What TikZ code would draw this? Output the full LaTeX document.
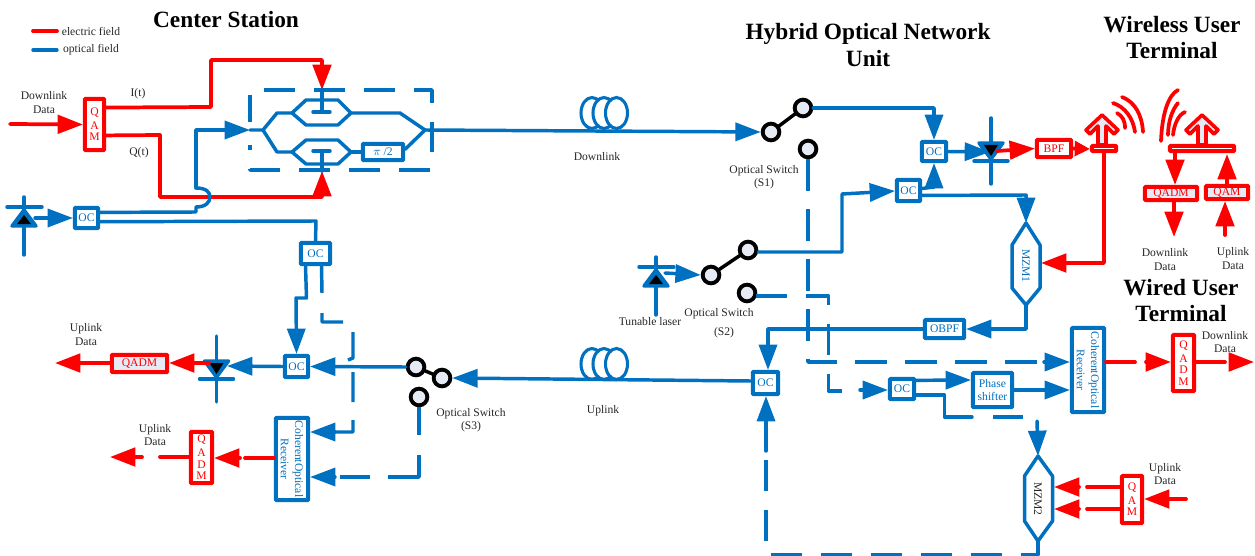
\documentclass[tikz,border=0pt]{standalone}
\usepackage{fontspec}
\usepackage{graphicx}
\setmainfont{Liberation Serif}
\usetikzlibrary{arrows.meta}
\definecolor{oblue}{HTML}{0070C0}
\definecolor{ored}{HTML}{FF0000}
\definecolor{pale}{HTML}{E6EAF5}
\tikzset{
  bl/.style={draw=oblue,line width=2.6pt,line join=round,line cap=round},
  rd/.style={draw=ored,line width=2.8pt,line join=round,line cap=round},
  barrow/.style={bl,-{Triangle[length=19pt,width=13.5pt]}},
  rarrow/.style={rd,-{Triangle[length=19pt,width=13.8pt]}},
  dsh/.style={bl,line cap=butt,dash pattern=on 23.5pt off 14pt},
  dpart/.style={bl,line cap=butt},
  lbl/.style={font=\fontsize{8.7}{10.1}\selectfont,align=center,inner sep=0pt,text=black!85},
  ttl/.style={font=\fontsize{17.5}{20.2}\selectfont\bfseries,align=center,inner sep=0pt},
  obox/.style={draw=oblue,line width=2.9pt,fill=white,inner sep=0pt,rounded corners=.5pt,text=oblue,font=\fontsize{8.7}{10.1}\selectfont,align=center},
  rbox/.style={draw=ored,line width=2.9pt,fill=white,inner sep=0pt,rounded corners=.5pt,text=ored,font=\fontsize{8.7}{10.1}\selectfont,align=center},
  rpale/.style={rbox,fill=pale},
  swc/.style={circle,draw=black,line width=2.9pt,fill=pale,minimum size=12.5pt,inner sep=0pt},
}
\newcommand{\bx}[7]{\pgfmathsetmacro\mycx{(#2+#4)/2}\pgfmathsetmacro\mycy{(#3+#5)/2}\pgfmathsetmacro\mybw{(#4-#2-3.8)*0.75}\pgfmathsetmacro\mybh{(#5-#3-3.8)*0.75}\node[#6,minimum width=\mybw pt,minimum height=\mybh pt] (#1) at (\mycx,\mycy) {#7};}
\newcommand{\laser}[2]{%
  \draw[bl] (#1,#2-10) -- (#1,#2+48);
  \draw[bl] (#1-17,#2) -- (#1+18,#2);
  \draw[bl,fill=oblue] (#1,#2+3) -- (#1-12,#2+19) -- (#1+12,#2+19) -- cycle;
  \fill[black] (#1,#2+8) -- (#1-7,#2+17) -- (#1+7,#2+17) -- cycle;}
\newcommand{\pdiode}[2]{%
  \draw[bl] (#1,#2-25) -- (#1,#2+41);
  \draw[bl] (#1-17,#2+18) -- (#1+17,#2+18);
  \draw[bl,fill=oblue] (#1-12,#2) -- (#1+12,#2) -- (#1,#2+16) -- cycle;
  \fill[black] (#1-7,#2+2) -- (#1+7,#2+2) -- (#1,#2+13) -- cycle;}
\newcommand{\antenna}[1]{%
  \draw[draw=ored,line width=2.7pt,line join=round,fill=pale] (#1,115) -- (#1+16,130) -- (#1+12,134) -- (#1+4,126) -- (#1+4,145) -- (#1-4,145) -- (#1-4,126) -- (#1-12,134) -- (#1-16,130) -- cycle;}
\begin{document}
\begin{tikzpicture}[x=0.75pt,y=-0.75pt]
\useasboundingbox (0,0) rectangle (1255,556);

% titles and legend
\node[ttl] (tCS) at (226,20) {Center Station};
\node[ttl] (tHY) at (868,45) {Hybrid Optical Network\\Unit};
\node[ttl] (tWL) at (1172,37.5) {Wireless User\\Terminal};
\node[ttl] (tWD) at (1181,300.5) {Wired User\\Terminal};
\coordinate (le1) at (33,31); \coordinate (le2) at (57,31);
\coordinate (lo1) at (33,50); \coordinate (lo2) at (57,50);
\draw[rd] (le1) -- (le2);
\draw[bl] (lo1) -- (lo2);
\node[lbl] (tEF) at (91,31) {electric field};
\node[lbl] (tOF) at (91,50) {optical field};

% labels
\node[lbl] (tDD1) at (44,102.5) {Downlink\\Data};
\node[lbl] (tIt) at (138,94) {I(t)};
\node[lbl] (tQt) at (139,153) {Q(t)};
\node[lbl] (tUD1) at (86,334.5) {Uplink\\Data};
\node[lbl] (tUD2) at (155,435) {Uplink\\Data};
\node[lbl] (tDL) at (597,157) {Downlink};
\node[lbl] (tUL) at (603,411) {Uplink};
\node[lbl] (tS1) at (764,177) {Optical Switch\\(S1)};
\node[lbl] (tS2a) at (719,314) {Optical Switch};
\node[lbl] (tS2b) at (724,333) {(S2)};
\node[lbl] (tS3) at (471,420) {Optical Switch\\(S3)};
\node[lbl] (tTL) at (650,322) {Tunable laser};
\node[lbl] (tDD2) at (1165,259.5) {Downlink\\Data};
\node[lbl] (tUD3) at (1233,258.5) {Uplink\\Data};
\node[lbl] (tDD3) at (1225,342) {Downlink\\Data};
\node[lbl] (tUD4) at (1165,474) {Uplink\\Data};

% boxes
\bx{qam1}{83}{97}{106}{152}{rbox}{\shortstack{Q\\A\\M}}
\bx{pi2}{361}{142}{405}{162}{obox}{$\pi$ /2}
\bx{oc7}{73}{206}{100}{230}{obox}{OC}
\bx{oc6}{299}{241}{332}{266}{obox}{OC}
\bx{oc5}{283}{354}{310}{379}{obox}{OC}
\bx{qadm2}{110}{353}{169}{374}{rpale}{QADM}
\bx{coh1}{274}{416}{310}{502}{obox}{\rotatebox{-90}{\shortstack{CoherentOptical\\Receiver}}}
\bx{qadm3}{189}{430}{214}{485}{rbox}{\shortstack{Q\\A\\D\\M}}
\bx{oc1}{920}{140}{948}{163}{obox}{OC}
\bx{oc2}{895}{178}{922}{203}{obox}{OC}
\bx{oc4}{751}{370}{780}{396}{obox}{OC}
\bx{oc3}{888}{377}{916}{401}{obox}{OC}
\bx{obpf}{923}{318}{966}{340}{obox}{OBPF}
\bx{phase}{971}{371}{1014}{409}{obox}{Phase\\shifter}
\bx{coh2}{1070}{326}{1106}{414}{obox}{\rotatebox{-90}{\shortstack{CoherentOptical\\Receiver}}}
\bx{bpf}{1035}{138}{1073}{159}{rbox}{BPF}
\bx{qadm1}{1143}{185}{1199}{202}{rpale}{QADM}
\bx{qam2}{1204}{184}{1250}{201}{rpale}{QAM}
\bx{qadm4}{1171}{333}{1196}{393}{rbox}{\shortstack{Q\\A\\D\\M}}
\bx{qam3}{1120}{474}{1144}{525}{rbox}{\shortstack{Q\\A\\M}}
\bx{pl1}{1090}{144}{1118}{153}{rbox}{}
\bx{pl2}{1168}{144}{1236}{153}{rbox}{}

% switches
\node[swc] (s1a) at (771,132) {};
\node[swc] (s1b) at (803,108) {};
\node[swc] (s1c) at (808,149) {};
\node[swc] (s2a) at (711,275) {};
\node[swc] (s2b) at (748,250) {};
\node[swc] (s2c) at (747,293) {};
\node[swc] (s3a) at (416,367) {};
\node[swc] (s3b) at (442,378) {};
\node[swc] (s3c) at (419,397) {};
\draw[black,line width=2.6pt,shorten >=-1pt,shorten <=-1pt] (s1a) -- (s1b);
\draw[black,line width=2.6pt,shorten >=-1pt,shorten <=-1pt] (s2a) -- (s2b);
\draw[black,line width=2.6pt,shorten >=-1pt,shorten <=-1pt] (s3a) -- (s3b);

% center station: electric feeds
\coordinate (ev1) at (322,90); \coordinate (ev2) at (322,171);
\draw[rarrow] (10,124) -- (qam1.west);
\draw[rarrow] ([yshift=12.7pt]qam1.east) -- (211,107) -- (211,60) -- (322,60) -- (ev1);
\draw[rarrow] ([yshift=-8.2pt]qam1.east) -- (160,135) -- (160,197) -- (322,197) -- (ev2);

% center station: modulator
\draw[bl] (ev1) -- (322,112) (313,112) -- (330,112);
\draw[bl] (ev2) -- (322,151) (313,151) -- (330,151);
\coordinate (mzin) at (250,130);
\coordinate (mzout) at (425,130);
\draw[bl] (mzin) -- (263,130) -- (277,113) -- (292,113);
\draw[bl] (263,130) -- (277,152) -- (292,152);
\draw[bl] (292,113) -- (306,100) -- (338,100) -- (351,113) -- (338,125) -- (306,125) -- cycle;
\draw[bl] (292,152) -- (306,140) -- (338,140) -- (351,152) -- (338,164) -- (306,164) -- cycle;
\draw[bl] (351,113) -- (400,113) -- (mzout);
\draw[bl] (351,152) -- (pi2.west);
\draw[bl] ([yshift=2pt]pi2.east) -- (mzout);
\draw[dsh] (264,90) -- (432,90) -- (432,103);
\draw[dsh] (432,122) -- (432,152);
\draw[dsh] (430,170) -- (250,170) -- (250,145);
\draw[dsh] (250,122) -- (250,95);

% fibre coils
\foreach \yy in {113,364} {
  \foreach \xx in {592,604,616.5} {
    \draw[draw=oblue,line width=2.3pt,fill=white] (\xx,\yy) ellipse [x radius=11,y radius=15.5];
  }
}

% center station: source
\laser{24}{207}
\coordinate (ld1) at (35,218);
\draw[barrow] (ld1) -- (oc7.west);
\coordinate (hop1) at (196,207); \coordinate (hop2) at (196,188);
\draw[bl] ([yshift=4.2pt]oc7.east) -- (196,212) -- (hop1) .. controls (206,207) and (210,202) .. (210,197) .. controls (210,192) and (206,188) .. (hop2);
\draw[barrow] (hop2) -- (196,130) -- (mzin);
\draw[bl] ([yshift=-2.8pt]oc7.east) -- (316,221) -- (oc6.north);

% downlink to switch S1
\draw[barrow] (mzout) -- (s1a.west);
\draw[barrow] (s1b.east) -- (934,108) -- (oc1.north);
\draw[barrow] ([yshift=1.5pt]oc2.east) -- (934,187) -- (934,163);
\draw[barrow] (oc1.east) -- (990,152);
\pdiode{991}{143}
\coordinate (pd3) at (997,151);
\draw[rarrow] (pd3) -- (bpf.west);
\coordinate (pl1w) at (1090,149);
\draw[rd,-{Triangle[length=11.5pt,width=11pt]}] (bpf.east) -- (pl1w);
\antenna{1102}
\antenna{1202}
\draw[rd] (1122,97) .. controls (1135,102) and (1142,115) .. (1143,132);
\draw[rd] (1113,103) .. controls (1125,107) and (1133,118) .. (1135,132);
\draw[rd] (1117,113) .. controls (1122,116) and (1125,120) .. (1125,128);
\draw[rd] (1178,90) .. controls (1168,95) and (1162,115) .. (1161,141);
\draw[rd] (1178,103) .. controls (1172,110) and (1168,122) .. (1168,135);
\draw[rd] (1185,112) .. controls (1178,115) and (1174,125) .. (1173,135);
\draw[rarrow] (1175,153) -- (qadm1.north -| 1175,184);
\draw[rarrow] (qadm1.south -| 1174,202) -- (1174,237);
\draw[rarrow] (qam2.north -| 1227,184) -- (1227,154);
\draw[rarrow] (1225,235) -- (qam2.south -| 1225,202);

% MZM1
\coordinate (m1t) at (1026,223); \coordinate (m1b) at (1026,305);
\draw[bl] (1012,245) -- (m1t) -- (1040,245) -- (1040,288) -- (m1b) -- (1012,288) -- cycle;
\node[lbl,text=oblue] (tM1) at (1026,266) {\rotatebox{-90}{MZM1}};
\draw[barrow] ([yshift=-3.7pt]oc2.east) -- (1026,195) -- (m1t);
\coordinate (m1e) at (1041,263);
\coordinate (pl1s) at (1104,153);
\draw[rarrow] (pl1s) -- (1104,263) -- (m1e);
\draw[barrow] (m1b) -- (1026,329) -- (obpf.east);
\draw[barrow] (obpf.west) -- (768,329) -- (oc4.north -| 768,370);

% switch S2 and tunable laser
\laser{656}{267}
\coordinate (ld2) at (665,273);
\draw[barrow] (ld2) -- (s2a.west);
\coordinate (oc2in) at (895,191);
\draw[barrow] ([yshift=-1.5pt]s2b.east) -- (842,252) -- (842,194) -- (oc2in);

% dashed control lines
\coordinate (d1) at (808,362);
\coordinate (d1e) at (1044,362);
\draw[dsh] (s1c.south) -- (d1) -- (d1e);
\draw[barrow] (d1e) -- (coh2.west |- d1e);
\coordinate (d2) at (756,296);
\draw[dsh] (d2) -- (828.5,296) -- (828.5,391) -- (860,391);
\coordinate (d2e) at (860,390);
\draw[barrow] (d2e) -- (oc3.west |- d2e);
\draw[barrow] ([yshift=6.5pt]oc3.east) -- (phase.west |- 0,380);
\draw[bl] ([yshift=-4.5pt]oc3.east) -- (944.6,395) -- (944.6,417) -- (972,417);
\coordinate (d3) at (993,417); \coordinate (d3e) at (1023,417);
\draw[bl,line cap=butt] (d3) -- (d3e);
\coordinate (m2s) at (1037,421);
\coordinate (m2t) at (1038,456); \coordinate (m2b) at (1038,541);
\draw[barrow] (m2s) -- (m2t);
\draw[bl] (1024.5,476) -- (m2t) -- (1052.5,476) -- (1052.5,521) -- (m2b) -- (1024.5,521) -- cycle;
\node[lbl] (tM2) at (1038,499) {\rotatebox{-90}{MZM2}};
\coordinate (ph2) at (1044,390);
\draw[bl] (phase.east) -- (ph2);
\draw[barrow] (ph2) -- (coh2.west |- ph2);
\coordinate (d4e) at (766,451);
\draw[dsh] (m2b) -- (1038,555) -- (766,555) -- (d4e);
\draw[barrow] (d4e) -- (oc4.south -| d4e);
\coordinate (r1) at (1087,487); \coordinate (r2) at (1087,509);
\coordinate (m2r1) at (1054,487); \coordinate (m2r2) at (1054,509);
\draw[rd] (qam3.west |- r1) -- (r1);
\draw[rd] (qam3.west |- r2) -- (r2);
\draw[rarrow] (1079,487) -- (m2r1);
\draw[rarrow] (1079,509) -- (m2r2);
\coordinate (qin) at (1186,499);
\draw[rarrow] (qin) -- (qam3.east |- qin);
\coordinate (c2o) at (1135,362);
\draw[rd] (coh2.east |- c2o) -- (c2o);
\coordinate (c2a) at (1146,362);
\draw[rarrow] (c2a) -- (qadm4.west |- c2a);
\coordinate (q4o) at (1225,362); \coordinate (q4a) at (1229,362); \coordinate (q4e) at (1254,362);
\draw[rd] (qadm4.east |- q4o) -- (q4o);
\draw[rarrow,line cap=butt] (q4a) -- (q4e);

% uplink
\draw[barrow] ([yshift=1.5pt]oc4.west) -- (s3b.east);
\draw[barrow] (s3a.west) -- (oc5.east);
\draw[barrow] (oc5.west) -- (227,366);
\pdiode{216.5}{361}
\coordinate (pd2) at (209,363);
\draw[rarrow] (pd2) -- (qadm2.east |- pd2);
\coordinate (uo) at (55,363);
\draw[rarrow] (qadm2.west |- uo) -- (uo);
\draw[barrow] ([xshift=-7.5pt]oc6.south) -- (306.5,298) -- (296,298) -- (oc5.north);
\coordinate (d5e) at (335,432);
\draw[dpart] ([xshift=4.5pt]oc6.south) -- (322,293) (322,313) -- (322,322) -- (343,322) (353,332) -- (353,358) -- (348,360) (353,372) -- (353,402) (353,420) -- (353,432) -- (d5e);
\draw[barrow] (d5e) -- (coh1.east |- d5e);
\coordinate (d6e) at (340,477);
\coordinate (d6b) at (335,477);
\draw[dpart] (s3c.south) -- (419,435) (419,455) -- (419,477) -- (388,477) (370,477) -- (d6e);
\draw[barrow] (d6b) -- (coh1.east |- d6b);
\coordinate (c1o) at (245,458);
\draw[rd] (coh1.west |- c1o) -- (c1o);
\coordinate (c1a) at (240,458);
\draw[rarrow] (c1a) -- (qadm3.east |- c1a);
\coordinate (q3o) at (160,457); \coordinate (q3a) at (142,457); \coordinate (q3e) at (110,457);
\draw[rd] (qadm3.west |- q3o) -- (q3o);
\draw[rarrow] (q3a) -- (q3e);
\end{tikzpicture}
\end{document}
